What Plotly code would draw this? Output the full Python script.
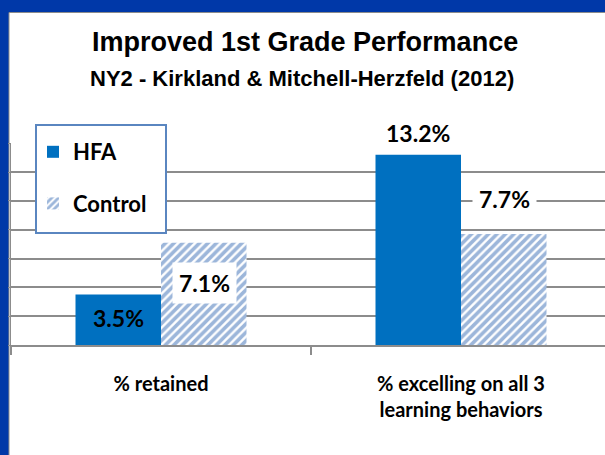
import plotly.graph_objects as go

categories = ["% retained", "% excelling on all 3<br>learning behaviors"]
hfa_values = [3.5, 13.2]
control_values = [7.1, 7.7]
series_names = ["HFA", "Control"]

# label offsets (pixels) relative to bar top, per series per category
hfa_label_shift = [-23, 22]
control_label_shift = [-40, 35]

W, H = 605, 455
ML, MR, MT, MB = 11, 0, 143, 110
PW, PH = W - ML - MR, H - MT - MB

def px_x(p):
    return (p - ML) / PW

def px_y(p):
    return (H - MB - p) / PH

HFA_COLOR = "#0070C0"
STRIPE_COLOR = "#3A6DB5"
GRID = "#8C8C8C"
LABEL_FONT = "Lato, Open Sans, sans-serif"
TITLE_FONT = "Liberation Sans Narrow, Arial Narrow, Liberation Sans, Arial, sans-serif"

fig = go.Figure()
fig.add_trace(go.Bar(
    x=categories, y=hfa_values, name=series_names[0],
    marker=dict(color=HFA_COLOR, line=dict(width=0)),
    legendgroup="a", hoverinfo="skip",
))
fig.add_trace(go.Bar(
    x=categories, y=control_values, name=series_names[1],
    marker=dict(color="white", line=dict(width=0),
                pattern=dict(shape="/", fgcolor=STRIPE_COLOR, bgcolor="white",
                             size=6, solidity=0.6)),
    legendgroup="b", hoverinfo="skip",
))

annotations = []
bar_half = 43
for i, c in enumerate(categories):
    annotations.append(dict(
        x=c, y=hfa_values[i], xref="x", yref="y", text=f"{hfa_values[i]}%",
        showarrow=False, xshift=-bar_half, yshift=hfa_label_shift[i],
        yanchor="middle",
        font=dict(family=LABEL_FONT, size=23, color="black", weight="bold"),
    ))
    annotations.append(dict(
        x=c, y=control_values[i], xref="x", yref="y", text=f"{control_values[i]}%",
        showarrow=False, xshift=bar_half, yshift=control_label_shift[i],
        yanchor="middle",
        font=dict(family=LABEL_FONT, size=23, color="black", weight="bold"),
        bgcolor="white", borderpad=6,
    ))

annotations.append(dict(
    x=px_x(305), y=px_y(42), xref="paper", yref="paper",
    text="Improved 1st Grade Performance", showarrow=False,
    xanchor="center", yanchor="middle",
    font=dict(family=TITLE_FONT, size=27, color="black", weight="bold"),
))
annotations.append(dict(
    x=px_x(302), y=px_y(79), xref="paper", yref="paper",
    text="NY2 - Kirkland & Mitchell-Herzfeld (2012)", showarrow=False,
    xanchor="center", yanchor="middle",
    font=dict(family=TITLE_FONT, size=22, color="black", weight="bold"),
))

shapes = [
    dict(
        type="rect", xref="paper", yref="paper", layer="below",
        x0=px_x(9), x1=px_x(620), y0=px_y(470), y1=px_y(12.5),
        fillcolor="white", line=dict(color="#8C8C8C", width=1),
    ),
    dict(  # legend frame
        type="rect", xref="paper", yref="paper", layer="above",
        x0=px_x(36), x1=px_x(166), y0=px_y(233), y1=px_y(125),
        fillcolor="white", line=dict(color="#5A86C0", width=2),
    ),
]

fig.update_layout(
    width=W, height=H,
    margin=dict(l=ML, r=MR, t=MT, b=MB, pad=0),
    paper_bgcolor="#0038A8",
    plot_bgcolor="rgba(0,0,0,0)",
    barmode="group", bargap=0.43, bargroupgap=0,
    showlegend=True,
    legend=dict(
        x=px_x(33), y=px_y(131), xanchor="left", yanchor="top",
        bgcolor="rgba(0,0,0,0)", borderwidth=0,
        font=dict(family=LABEL_FONT, size=22, color="black", weight="bold"),
        traceorder="grouped", tracegroupgap=20,
        itemwidth=30,
    ),
    annotations=annotations,
    shapes=shapes,
    xaxis=dict(
        type="category", range=[-0.5, 1.48],
        showline=True, linecolor=GRID, linewidth=2,
        ticks="outside", tickson="boundaries", ticklen=8, tickcolor=GRID, tickwidth=2,
        showgrid=False,
        tickfont=dict(family=LABEL_FONT, size=20, color="black", weight="bold"),
        ticklabelstandoff=20,
    ),
    yaxis=dict(
        range=[0, 14.02], dtick=2, showticklabels=False,
        showgrid=True, gridcolor=GRID, gridwidth=2,
        showline=True, linecolor=GRID, linewidth=1,
        ticks="outside", ticklen=2, tickcolor=GRID,
        zeroline=False,
    ),
)

fig.write_html("out.html", config={"displayModeBar": False},
               post_script="document.body.style.margin='0';")
